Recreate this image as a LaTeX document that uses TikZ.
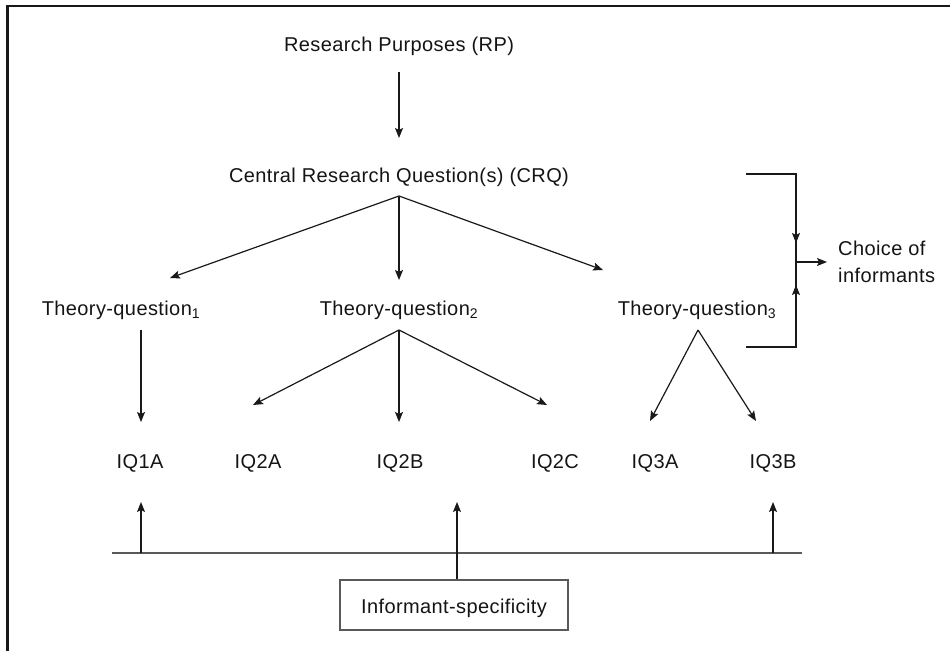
\documentclass[tikz,border=0pt]{standalone}
\usepackage{fontspec}
\setmainfont{Liberation Sans}[LetterSpace=2]
\usetikzlibrary{arrows.meta}
\begin{document}
\begin{tikzpicture}[x=1pt,y=-1pt,
  lbl/.style={font=\fontsize{20}{27}\selectfont, inner sep=0pt, text=black!92, anchor=base},
  conn/.style={line width=1.2pt, draw=black!90, -{Stealth[length=10pt,width=8pt,inset=2pt]}},
  plainline/.style={line width=1.2pt, draw=black!90},
  baseline/.style={line width=2pt, draw=black!65},
  framing/.style={line width=2.6pt, draw=black!90},
  specbox/.style={draw=black!65, line width=1.1pt, minimum width=228pt, minimum height=50pt, inner sep=0pt}]
\useasboundingbox (0,0) rectangle (950,651);
% outer frame (left and top edges)
\draw[framing] (7.5,651) -- (7.5,6) -- (950,6);

% labels
\node[lbl] (rp)  at (399,51)  {Research Purposes (RP)};
\node[lbl] (crq) at (399,182) {Central Research Question(s) (CRQ)};
\node[lbl] (tq1) at (121,315) {Theory-question\textsubscript{1}};
\node[lbl] (tq2) at (399,315) {Theory-question\textsubscript{2}};
\node[lbl] (tq3) at (697,315) {Theory-question\textsubscript{3}};
\node[lbl] (iq1a) at (140,468) {IQ1A};
\node[lbl] (iq2a) at (258,468) {IQ2A};
\node[lbl] (iq2b) at (400,468) {IQ2B};
\node[lbl] (iq2c) at (555,468) {IQ2C};
\node[lbl] (iq3a) at (655,468) {IQ3A};
\node[lbl] (iq3b) at (773,468) {IQ3B};
\node[lbl, anchor=west, align=left] (choice) at (838,262) {Choice of\\informants};
\node[specbox] (spec) at (454,605) {};
\node[lbl] (spectext) at (454,613) {Informant-specificity};

% connector end points
\coordinate (rpout) at (399,72);
\coordinate (rpin)  at (399,138);
\coordinate (crqf)  at (399,196);
\coordinate (tq1in) at (170,278);
\coordinate (tq2in) at (399,280);
\coordinate (tq3in) at (603,270);
\coordinate (tq1out) at (141,330);
\coordinate (tq2f) at (399,330);
\coordinate (tq3f) at (698,330);
\coordinate (iq1ain) at (141,422);
\coordinate (iq2ain) at (253,405);
\coordinate (iq2bin) at (399,422);
\coordinate (iq2cin) at (547,405);
\coordinate (iq3ain) at (650,421);
\coordinate (iq3bin) at (756,421);
% bracket to the right
\coordinate (brtop) at (746,174);
\coordinate (brtr)  at (796,174);
\coordinate (brbot) at (746,347);
\coordinate (brbr)  at (796,347);
\coordinate (brdown) at (796,243);
\coordinate (brup)   at (796,285);
\coordinate (brmid)  at (796,262);
\coordinate (chin)   at (827,262);
% base line and upward arrows
\coordinate (blL) at (112,553);
\coordinate (blR) at (802,553);
\coordinate (b1) at (141,553);
\coordinate (b3) at (773,553);
\coordinate (u1) at (141,502);
\coordinate (u2) at (457,502);
\coordinate (u3) at (773,502);

% top part
\draw[conn] (rpout) -- (rpin);
\draw[conn] (crqf) -- (tq1in);
\draw[conn] (crqf) -- (tq2in);
\draw[conn] (crqf) -- (tq3in);

% theory questions to interview questions
\draw[conn] (tq1out) -- (iq1ain);
\draw[conn] (tq2f) -- (iq2ain);
\draw[conn] (tq2f) -- (iq2bin);
\draw[conn] (tq2f) -- (iq2cin);
\draw[conn] (tq3f) -- (iq3ain);
\draw[conn] (tq3f) -- (iq3bin);

% bracket leading to the choice of informants
\draw[plainline] (brtop) -- (brtr) -- (brbr) -- (brbot);
\draw[conn] (brtr) -- (brdown);
\draw[conn] (brbr) -- (brup);
\draw[conn] (brmid) -- (chin);

% informant-specificity feeding back
\draw[baseline] (blL) -- (blR);
\draw[conn] (b1) -- (u1);
\draw[conn] (b3) -- (u3);
\draw[conn] (spec.north -| u2) -- (u2);
\end{tikzpicture}
\end{document}
